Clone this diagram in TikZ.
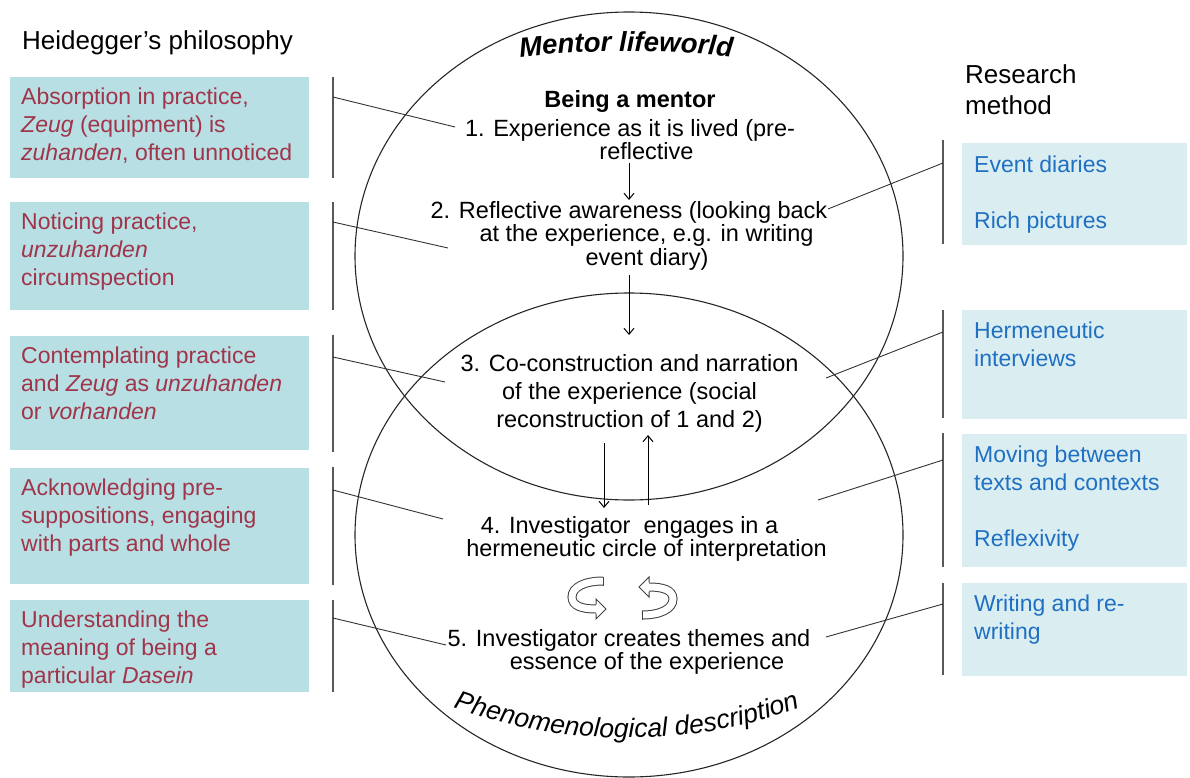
\documentclass[tikz,border=0pt]{standalone}
\usepackage{fontspec}
\setmainfont{Liberation Sans}
\usetikzlibrary{decorations.text,arrows.meta}
\definecolor{lfill}{HTML}{B8DFE3}
\definecolor{ltext}{HTML}{A0344A}
\definecolor{rfill}{HTML}{DAEEF1}
\definecolor{rtext}{HTML}{1F6FC2}
\tikzset{
  lbox/.style={fill=lfill, draw=none, minimum width=299pt, inner sep=0pt, anchor=north west},
  rbox/.style={fill=rfill, draw=none, minimum width=225pt, inner sep=0pt, anchor=north west},
  ltxt/.style={anchor=north west, inner sep=0pt, align=left, text=ltext, font=\fontsize{23}{28}\selectfont},
  rtxt/.style={anchor=north west, inner sep=0pt, align=left, text=rtext, font=\fontsize{23}{28}\selectfont},
  ctxt/.style={anchor=north, inner sep=0pt, align=center, font=\fontsize{23.5}{23.5}\selectfont},
  conn/.style={draw=black!80, line width=0.9pt},
  barline/.style={draw=black!65, line width=1.6pt},
  ring/.style={draw=black!85, line width=1.1pt},
  arr/.style={draw=black, line width=1pt, -{Straight Barb[length=6pt,width=10pt]}},
  cyc/.pic={
    \draw[black!75, line width=9pt] (14,-17) .. controls (-4,-17) and (-17,-11) .. (-17,-1) .. controls (-17,8) and (-7,11) .. (7,11);
    \draw[white, line width=7pt] (14,-17) .. controls (-4,-17) and (-17,-11) .. (-17,-1) .. controls (-17,8) and (-7,11) .. (7,11);
    \draw[black!75, line width=1pt] (14,-21.5) -- (14,-12.5);
    \fill[white] (7,1) -- (17,11) -- (7,21) -- cycle;
    \draw[black!75, line width=1pt, line join=miter] (7,6.5) -- (7,1) -- (17,11) -- (7,21) -- (7,15.5);
  }
}
\begin{document}
\begin{tikzpicture}[x=1pt,y=-1pt]
\useasboundingbox (0,0) rectangle (1190,778);

% ellipses
\draw[ring] (629,256) ellipse [x radius=274pt, y radius=244pt];
\draw[ring] (629,535) ellipse [x radius=274pt, y radius=242pt];

% curved titles
\path[decorate, decoration={text along path, text align=center,
  text={|\fontsize{27.5}{30}\selectfont\bfseries\itshape|Mentor lifeworld}}]
  (491,61) .. controls (576,48) and (676,48) .. (761,61);
\path[decorate, decoration={text along path, text align=center,
  text={|\fontsize{26.5}{30}\selectfont\itshape|Phenomenological description}}]
  (388,678.4) .. controls (537.4,757.8) and (716.6,757.8) .. (866,678.4);

% headings
\node[anchor=west, inner sep=0pt, font=\fontsize{26}{31}\selectfont] (hh) at (22,43) {Heidegger’s philosophy};
\node[anchor=north west, inner sep=0pt, align=left, font=\fontsize{26}{31}\selectfont] (rm) at (965,64) {Research\\method};

% left boxes
\node[lbox, minimum height=101pt] (lb1) at (10,77) {};
\node[lbox, minimum height=108pt] (lb2) at (10,202) {};
\node[lbox, minimum height=114pt] (lb3) at (10,336) {};
\node[lbox, minimum height=116pt] (lb4) at (10,468) {};
\node[lbox, minimum height=92pt] (lb5) at (10,600) {};
\node[ltxt] (lt1) at ([xshift=11pt,yshift=-11pt]lb1.north west) {Absorption in practice,\\\textit{Zeug} (equipment) is\\\textit{zuhanden}, often unnoticed};
\node[ltxt] (lt2) at ([xshift=11pt,yshift=-11pt]lb2.north west) {Noticing practice,\\\textit{unzuhanden}\\circumspection};
\node[ltxt] (lt3) at ([xshift=11pt,yshift=-11pt]lb3.north west) {Contemplating practice\\and \textit{Zeug} as \textit{unzuhanden}\\or \textit{vorhanden}};
\node[ltxt] (lt4) at ([xshift=11pt,yshift=-11pt]lb4.north west) {Acknowledging pre-\\suppositions, engaging\\with parts and whole};
\node[ltxt] (lt5) at ([xshift=11pt,yshift=-11pt]lb5.north west) {Understanding the\\meaning of being a\\particular \textit{Dasein}};

% right boxes
\node[rbox, minimum height=102pt] (rb1) at (962,143) {};
\node[rbox, minimum height=109pt] (rb2) at (962,310) {};
\node[rbox, minimum height=133pt] (rb3) at (962,434) {};
\node[rbox, minimum height=93pt] (rb4) at (962,583) {};
\node[rtxt] (rt1) at ([xshift=12pt,yshift=-13pt]rb1.north west) {Event diaries\\[28pt]Rich pictures};
\node[rtxt] (rt2) at ([xshift=12pt,yshift=-12pt]rb2.north west) {Hermeneutic\\interviews};
\node[rtxt] (rt3) at ([xshift=12pt,yshift=-12pt]rb3.north west) {Moving between\\texts and contexts\\[28pt]Reflexivity};
\node[rtxt] (rt4) at ([xshift=12pt,yshift=-12pt]rb4.north west) {Writing and re-\\writing};

% bars
\draw[barline] (333,77) -- (333,178);
\draw[barline] (333,202) -- (333,310);
\draw[barline] (333,335) -- (333,452);
\draw[barline] (333,467) -- (333,585);
\draw[barline] (333,600) -- (333,692);
\draw[barline] (943,140) -- (943,244);
\draw[barline] (943,310) -- (943,418);
\draw[barline] (943,433) -- (943,567);
\draw[barline] (943,583) -- (943,675);

% centre texts
\node[inner sep=0pt, font=\bfseries\fontsize{23.5}{23.5}\selectfont] (bm) at (630,101) {Being a mentor};
\node[ctxt] (c1) at (630,119) {1. Experience as it is lived (pre-\\\hspace*{33pt}reflective};
\node[ctxt] (c2) at (629,201) {2. Reflective awareness (looking back\\\hspace*{35pt}at the experience, e.g. in writing\\\hspace*{36pt}event diary)};
\node[ctxt, font=\fontsize{23.5}{28}\selectfont] (c3) at (629.5,354) {3. Co-construction and narration\\of the experience (social\\reconstruction of 1 and 2)};
\node[ctxt] (c4) at (629.5,516) {4. Investigator\ \ engages in a\\\hspace*{34pt}hermeneutic circle of interpretation};
\node[ctxt] (c5) at (629,629) {5. Investigator creates themes and\\\hspace*{36pt}essence of the experience};

% vertical arrows
\coordinate (a1s) at (629,163); \coordinate (a1e) at (629,200);
\coordinate (a2s) at (629,275); \coordinate (a2e) at (629,335);
\coordinate (a3s) at (604,443); \coordinate (a3e) at (604,508);
\coordinate (a4s) at (648,505); \coordinate (a4e) at (648,435);
\draw[arr] (a1s) -- (a1e);
\draw[arr] (a2s) -- (a2e);
\draw[arr] (a3s) -- (a3e);
\draw[arr] (a4s) -- (a4e);

% circular arrows
\pic (cyl) at (589,598) {cyc};
\pic[rotate=180] (cyr) at (656,598) {cyc};

% connectors left
\coordinate (L1a) at (333,97);  \coordinate (L1b) at (455,127);
\coordinate (L2a) at (333,222); \coordinate (L2b) at (448,248);
\coordinate (L3a) at (333,357); \coordinate (L3b) at (445,382);
\coordinate (L4a) at (333,490); \coordinate (L4b) at (443,519);
\coordinate (L5a) at (333,618); \coordinate (L5b) at (446,645);
\draw[conn] (L1a) -- (L1b);
\draw[conn] (L2a) -- (L2b);
\draw[conn] (L3a) -- (L3b);
\draw[conn] (L4a) -- (L4b);
\draw[conn] (L5a) -- (L5b);
% connectors right
\coordinate (R1a) at (943,163); \coordinate (R1b) at (828,209);
\coordinate (R2a) at (943,332); \coordinate (R2b) at (826,378);
\coordinate (R3a) at (943,460); \coordinate (R3b) at (818,500);
\coordinate (R4a) at (943,604); \coordinate (R4b) at (826,637);
\draw[conn] (R1a) -- (R1b);
\draw[conn] (R2a) -- (R2b);
\draw[conn] (R3a) -- (R3b);
\draw[conn] (R4a) -- (R4b);
\end{tikzpicture}
\end{document}
